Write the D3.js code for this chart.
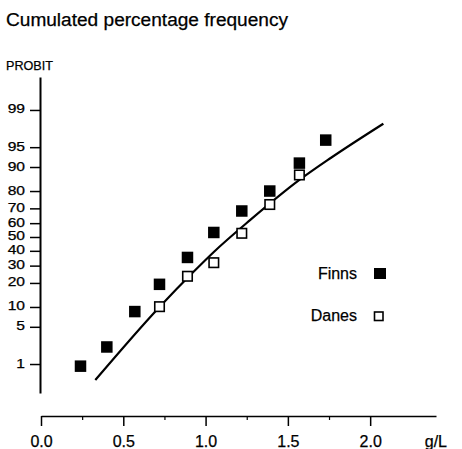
<!DOCTYPE html>
<html>
<head>
<meta charset="utf-8">
<script src="https://cdn.jsdelivr.net/npm/d3@7"></script>
<style>
  body { margin: 0; background: #fff; }
  text { font-family: "Liberation Sans", Arial, sans-serif; fill: #000; stroke: #000; stroke-width: 0.25px; }
</style>
</head>
<body>
<svg id="chart"></svg>
<script>
// values (dose in g/L, cumulated % frequency)
const finnsDose = [0.24, 0.40, 0.57, 0.72, 0.89, 1.05, 1.22, 1.39, 1.57, 1.73];
const finnsPct = [0.9, 2.2, 8.6, 19.3, 35.4, 53.3, 68.3, 80, 91.2, 96.2];
const danesDose = [0.72, 0.89, 1.05, 1.22, 1.39, 1.57];
const danesPct = [10.1, 23.6, 31.9, 52.7, 72.4, 87.2];
const fitDose = [0.33, 0.72, 0.93, 1.05, 1.27, 1.57, 1.76, 2.08];
const fitPct = [0.44, 10, 26.5, 39.2, 62.1, 85.2, 92.6, 98.1];
const yTicks = [1, 5, 10, 20, 30, 40, 50, 60, 70, 80, 90, 95, 99];
const xTicks = [0, 0.5, 1.0, 1.5, 2.0];
const xMinor = [0.25, 0.75, 1.25, 1.75];

// inverse normal cdf (Acklam) for the probit axis
function probit(p) {
    const a = [-39.6968302866538, 220.946098424521, -275.928510446969, 138.357751867269, -30.6647980661472, 2.50662827745924];
    const b = [-54.4760987982241, 161.585836858041, -155.698979859887, 66.8013118877197, -13.2806815528857];
    const c = [-0.00778489400243029, -0.322396458041136, -2.40075827716184, -2.54973253934373, 4.37466414146497, 2.93816398269878];
    const d = [0.00778469570904146, 0.32246712907004, 2.445134137143, 3.75440866190742];
    const pl = 0.02425;
    let q, r;
    if (p < pl) {
        q = Math.sqrt(-2 * Math.log(p));
        return (((((c[0]*q+c[1])*q+c[2])*q+c[3])*q+c[4])*q+c[5]) / ((((d[0]*q+d[1])*q+d[2])*q+d[3])*q+1);
    }
    if (p > 1 - pl) {
        q = Math.sqrt(-2 * Math.log(1 - p));
        return -(((((c[0]*q+c[1])*q+c[2])*q+c[3])*q+c[4])*q+c[5]) / ((((d[0]*q+d[1])*q+d[2])*q+d[3])*q+1);
    }
    q = p - 0.5; r = q * q;
    return (((((a[0]*r+a[1])*r+a[2])*r+a[3])*r+a[4])*r+a[5])*q / (((((b[0]*r+b[1])*r+b[2])*r+b[3])*r+b[4])*r+1);
}

const width = 462, height = 449;
const svg = d3.select('#chart').attr('width', width).attr('height', height);

const xScale = d3.scaleLinear().domain([0, 2.4]).range([41, 436]);
const zScale = d3.scaleLinear().domain([-2.857, 2.93]).range([393, 77]);
const yPos = pct => zScale(probit(pct / 100));

// titles
svg.append('text').attr('x', 6).attr('y', 26)
    .style('font-size', '18px')
    .attr('textLength', 282).attr('lengthAdjust', 'spacingAndGlyphs')
    .text('Cumulated percentage frequency');

svg.append('text').attr('x', 6).attr('y', 70)
    .style('font-size', '13px')
    .attr('textLength', 47).attr('lengthAdjust', 'spacingAndGlyphs')
    .text('PROBIT');

// y axis (probit)
const yAxis = svg.append('g')
    .attr('transform', 'translate(40,0)')
    .call(d3.axisLeft(zScale)
        .tickValues(yTicks.map(p => probit(p / 100)))
        .tickFormat((d, i) => yTicks[i])
        .tickSize(10)
        .tickSizeOuter(0)
        .tickPadding(5));
yAxis.select('.domain').attr('stroke-width', 2);
yAxis.selectAll('.tick line').attr('stroke-width', 1.5);
yAxis.selectAll('.tick text')
    .style('font-size', '12px')
    .attr('dy', '0.25em')
    .each(function () {
        const w = this.getComputedTextLength();
        d3.select(this).attr('textLength', w * 1.3).attr('lengthAdjust', 'spacingAndGlyphs');
    });

// x axis
const xAxisY = 416;
const xAxis = svg.append('g')
    .attr('transform', `translate(0,${xAxisY})`)
    .call(d3.axisBottom(xScale)
        .tickValues(xTicks)
        .tickFormat(d3.format('.1f'))
        .tickSize(10)
        .tickSizeOuter(0));
xAxis.select('.domain').attr('stroke-width', 1.5);
xAxis.selectAll('.tick line').attr('stroke-width', 1.5);
xAxis.selectAll('.tick text')
    .style('font-size', '16px')
    .attr('y', 31).attr('dy', 0);

svg.append('g')
    .attr('transform', `translate(0,${xAxisY})`)
    .call(d3.axisBottom(xScale).tickValues(xMinor).tickFormat('').tickSize(4).tickSizeOuter(0))
    .call(g => g.select('.domain').remove())
    .selectAll('.tick line').attr('stroke-width', 1.2);

svg.append('text').attr('x', 447).attr('y', 447)
    .attr('text-anchor', 'end')
    .style('font-size', '16px')
    .text('g/L');

// fitted curve
const line = d3.line()
    .x((d, i) => xScale(fitDose[i]))
    .y(d => yPos(d))
    .curve(d3.curveMonotoneX);

svg.append('path')
    .datum(fitPct)
    .attr('d', line)
    .attr('fill', 'none')
    .attr('stroke', '#000')
    .attr('stroke-width', 2.2);

// Danes (open squares)
const os = 9.5;
svg.append('g').selectAll('rect')
    .data(danesPct)
    .join('rect')
    .attr('x', (d, i) => xScale(danesDose[i]) - os / 2)
    .attr('y', d => yPos(d) - os / 2)
    .attr('width', os).attr('height', os)
    .attr('fill', '#fff')
    .attr('stroke', '#000')
    .attr('stroke-width', 1.6);

// Finns (filled squares)
const fs = 11.5;
svg.append('g').selectAll('rect')
    .data(finnsPct)
    .join('rect')
    .attr('x', (d, i) => xScale(finnsDose[i]) - fs / 2)
    .attr('y', d => yPos(d) - fs / 2)
    .attr('width', fs).attr('height', fs)
    .attr('fill', '#000');

// legend
svg.append('text').attr('x', 357).attr('y', 279)
    .attr('text-anchor', 'end').style('font-size', '16px').text('Finns');
svg.append('rect').attr('x', 374).attr('y', 268).attr('width', 12).attr('height', 11).attr('fill', '#000');

svg.append('text').attr('x', 357).attr('y', 321)
    .attr('text-anchor', 'end').style('font-size', '16px').text('Danes');
svg.append('rect').attr('x', 374.5).attr('y', 312).attr('width', 8.5).attr('height', 8.5)
    .attr('fill', '#fff').attr('stroke', '#000').attr('stroke-width', 1.6);
</script>
</body>
</html>
